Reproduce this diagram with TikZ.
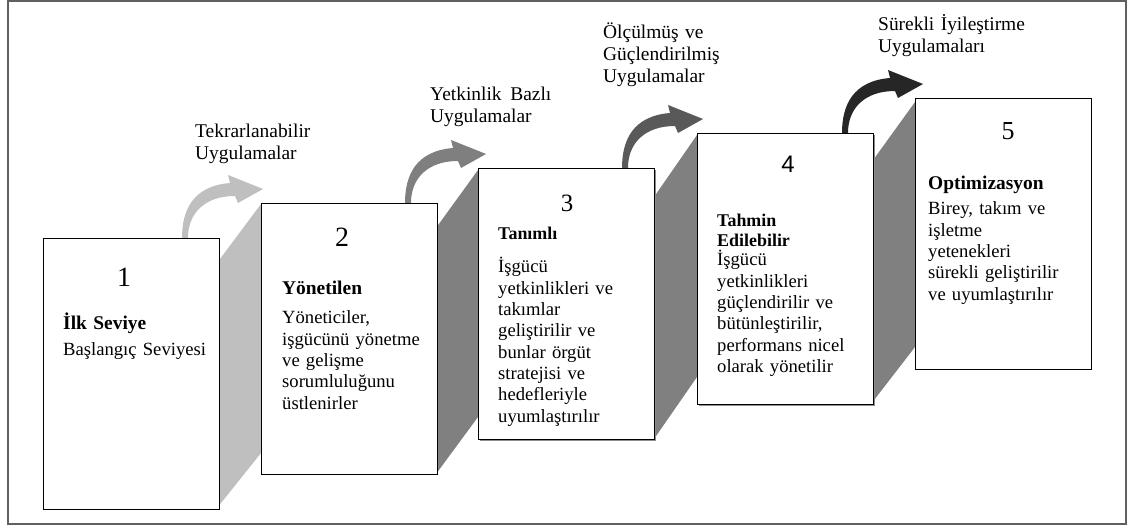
\documentclass[tikz,border=0pt]{standalone}
\usepackage{fontspec}
\setmainfont{Liberation Serif}
\newfontfamily\numsans{Liberation Sans}
\usetikzlibrary{calc,shadows}

\definecolor{framegray}{HTML}{606060}
\definecolor{stepA}{HTML}{BFBFBF}
\definecolor{stepB}{HTML}{7F7F7F}
\definecolor{stepC}{HTML}{595959}
\definecolor{stepD}{HTML}{262626}
\definecolor{bandgray}{HTML}{808080}

\begin{document}
\begin{tikzpicture}[x=1bp,y=-1bp,
  stagebox/.style={draw=black, line width=1.3bp, fill=white, anchor=north west,
    minimum width=176bp, minimum height=271bp, inner sep=0},
  shadowbox/.style={stagebox, drop shadow={shadow xshift=1.2bp, shadow yshift=-1.2bp,
    fill=black!45, opacity=1}},
  stagenum/.style={anchor=base, inner sep=0, font=\fontsize{28}{30}\selectfont},
  stagetitle/.style={anchor=base west, inner sep=0, text width=170bp, align=left,
    font=\fontsize{19.5}{21}\selectfont\bfseries},
  stagetext/.style={anchor=base west, inner sep=0, text width=175bp, align=left,
    font=\fontsize{18.7}{21.4}\selectfont},
  practice/.style={anchor=base west, inner sep=0, text width=200bp, align=left,
    font=\fontsize{19.5}{22}\selectfont},
  bend arrow/.pic={
    \fill[#1] (-3,0) .. controls (-3,-28) and (8,-52) .. (45,-55)
      -- (43,-63) -- (78,-49) -- (53,-35) -- (50,-42)
      .. controls (20,-42) and (3,-25) .. (3,0) -- cycle;
  }]
\useasboundingbox (0,0) rectangle (1130,527);

% outer frame
\draw[framegray, line width=2bp] (7.5,1) rectangle (1125.5,523.5);

% slanted bands joining consecutive steps
\fill[stepA]    (217,263) -- (261,204) -- (261,453) -- (217,508) -- cycle;
\fill[bandgray] (436,228) -- (478,170) -- (478,417) -- (436,474) -- cycle;
\fill[bandgray] (654,197) -- (697,135) -- (697,377) -- (654,439) -- cycle;
\fill[bandgray] (871,163) -- (915,102) -- (915,347) -- (871,404) -- cycle;

% curved arrows rising from each step
\pic at (185,238) {bend arrow=stepA};
\pic at (408,203) {bend arrow=stepB};
\pic at (625,168) {bend arrow=stepC};
\pic at (845,133) {bend arrow=stepD};

% step boxes
\node[stagebox]  (b1) at (43,238) {};
\node[stagebox]  (b2) at (261,203) {};
\node[shadowbox] (b3) at (478,168) {};
\node[shadowbox] (b4) at (697,133) {};
\node[stagebox]  (b5) at (915,98) {};

% step 1
\node[stagenum] (n1) at (124,287) {1};
\node[stagetitle] (t1) at (63,330) {İlk Seviye};
\node[stagetext] (d1) at (63,356) {Başlangıç Seviyesi};

% step 2
\node[stagenum] (n2) at (342,247) {2};
\node[stagetitle] (t2) at (282,295) {Yönetilen};
\node[stagetext] (d2) at (282,324) {Yöneticiler,\\işgücünü yönetme\\ve gelişme\\sorumluluğunu\\üstlenirler};

% step 3
\node[stagenum, font=\fontsize{25}{27}\selectfont] (n3) at (567,212) {3};
\node[stagetitle, font=\fontsize{18}{20}\selectfont\bfseries] (t3) at (498,240) {Tanımlı};
\node[stagetext] (d3) at (498,273) {İşgücü\\yetkinlikleri ve\\takımlar\\geliştirilir ve\\bunlar örgüt\\stratejisi ve\\hedefleriyle\\uyumlaştırılır};

% step 4
\node[stagenum, font=\numsans\fontsize{24}{26}\selectfont] (n4) at (788,173) {4};
\node[stagetitle, font=\fontsize{18}{20}\selectfont\bfseries] (t4) at (717,227) {Tahmin\\Edilebilir};
\node[stagetext] (d4) at (717,266) {İşgücü\\yetkinlikleri\\güçlendirilir ve\\bütünleştirilir,\\performans nicel\\olarak yönetilir};

% step 5
\node[stagenum, font=\fontsize{26}{28}\selectfont] (n5) at (1008,140) {5};
\node[stagetitle] (t5) at (928,190) {Optimizasyon};
\node[stagetext] (d5) at (928,215) {Birey, takım ve\\işletme\\yetenekleri\\sürekli geliştirilir\\ve uyumlaştırılır};

% practice labels above the arrows
\node[practice] (p1) at (195,138) {Tekrarlanabilir\\Uygulamalar};
\node[practice] (p2) at (430,101) {Yetkinlik\hspace{0.45em}Bazlı\\Uygulamalar};
\node[practice] (p3) at (603,39) {Ölçülmüş ve\\Güçlendirilmiş\\Uygulamalar};
\node[practice] (p4) at (878,31) {Sürekli İyileştirme\\Uygulamaları};
\end{tikzpicture}
\end{document}
